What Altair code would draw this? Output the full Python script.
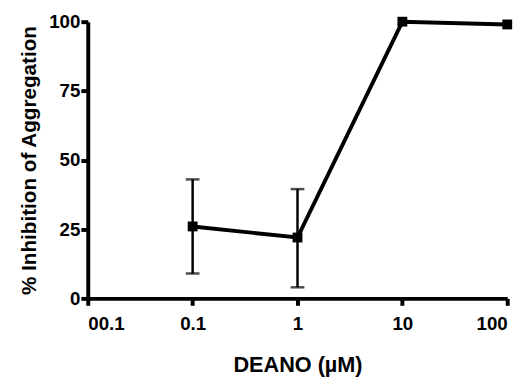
import altair as alt
import pandas as pd

conc = [0.1, 1, 10, 100]
inhibition = [26, 22, 100, 99]
err_low = [9, 4, None, None]
err_high = [43, 39.5, None, None]

x_ticks = [0.01, 0.1, 1, 10, 100]
x_tick_labels = ["00.1", "0.1", "1", "10", "100"]
y_ticks = [0, 25, 50, 75, 100]

df = pd.DataFrame({"conc": conc, "inh": inhibition, "lo": err_low, "hi": err_high})
df_err = df.dropna()

label_expr = " : ".join(
    [f"datum.value < {v * 1.5} ? '{l}'" for v, l in zip(x_ticks, x_tick_labels)]
) + " : ''"

FONT = "Liberation Sans"

x_enc = alt.X(
    "conc:Q",
    scale=alt.Scale(type="log", domain=[0.01, 100]),
    axis=alt.Axis(
        values=x_ticks,
        labelExpr=label_expr,
        title="DEANO (µM)",
        grid=False,
        domainWidth=4,
        domainColor="black",
        tickColor="black",
        tickWidth=4,
        tickSize=7,
        labelFont=FONT,
        labelFontSize=19,
        labelFontWeight="bold",
        labelColor="black",
        labelPadding=10,
        titleFont=FONT,
        titleFontSize=22,
        titleFontWeight="bold",
        titleColor="black",
        titlePadding=21,
    ),
)
y_axis = alt.Axis(
    values=y_ticks,
    title="% Inhibition of Aggregation",
    grid=False,
    domainWidth=4,
    domainColor="black",
    tickColor="black",
    tickWidth=4,
    tickSize=7,
    labelFont=FONT,
    labelFontSize=19,
    labelFontWeight="bold",
    labelColor="black",
    labelPadding=1,
    titleFont=FONT,
    titleFontSize=21,
    titleFontWeight="bold",
    titleColor="black",
    titlePadding=9,
)
y_scale = alt.Scale(domain=[0, 100])

base = alt.Chart(df)
line = base.mark_line(color="black", strokeWidth=4).encode(
    x=x_enc, y=alt.Y("inh:Q", scale=y_scale, axis=y_axis)
)
pts = base.mark_square(color="black", size=100, opacity=1).encode(
    x="conc:Q", y="inh:Q"
)
err = alt.Chart(df_err).mark_rule(color="black", strokeWidth=2.5).encode(
    x="conc:Q", y="lo:Q", y2="hi:Q"
)
cap_lo = alt.Chart(df_err).mark_tick(color="black", thickness=2.5, size=14, orient="horizontal").encode(
    x="conc:Q", y="lo:Q"
)
cap_hi = alt.Chart(df_err).mark_tick(color="black", thickness=2.5, size=14, orient="horizontal").encode(
    x="conc:Q", y="hi:Q"
)

chart = (
    alt.layer(err, cap_lo, cap_hi, line, pts)
    .properties(
        width=426,
        height=281,
        autosize=alt.AutoSizeParams(type="none"),
        padding={"left": 81, "top": 11, "right": 16, "bottom": 82},
    )
    .configure_view(stroke=None)
)

chart.save("out.html", embed_options={"renderer": "svg", "actions": False})
